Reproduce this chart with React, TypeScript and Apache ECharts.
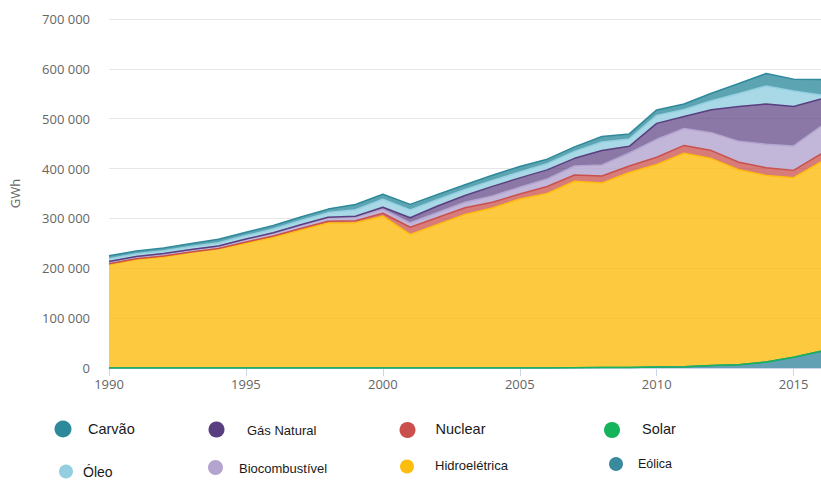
import React, { useEffect, useRef } from "react";
import * as echarts from "echarts";

const years = [1990, 1991, 1992, 1993, 1994, 1995, 1996, 1997, 1998, 1999, 2000, 2001, 2002, 2003, 2004, 2005, 2006, 2007, 2008, 2009, 2010, 2011, 2012, 2013, 2014, 2015, 2016];

const eolica = [0, 0, 0, 0, 0, 0, 0, 0, 0, 1, 2, 35, 61, 61, 61, 93, 237, 663, 1183, 1238, 2177, 2705, 5050, 6578, 12210, 21626, 33489];
const solar = [0, 0, 0, 0, 0, 0, 0, 0, 0, 0, 0, 0, 0, 0, 0, 0, 0, 0, 0, 0, 0, 0, 2, 5, 16, 59, 85];
const hidroeletrica = [207000, 217500, 222800, 232200, 239400, 250200, 262300, 276700, 290900, 291300, 304400, 267900, 288000, 308000, 320800, 339000, 350000, 374000, 370000, 391000, 406000, 428000, 415000, 391000, 374000, 360000, 380000];
const nuclear = [2200, 1400, 1800, 400, 100, 2500, 2400, 3200, 3300, 4000, 6000, 14300, 13800, 13400, 11600, 9900, 13800, 12400, 14000, 13000, 14500, 15700, 16000, 15000, 15400, 14700, 16000];
const biocombustivel = [4200, 4500, 4600, 4800, 5000, 5500, 6000, 6500, 7000, 7500, 8000, 9000, 10000, 11000, 12500, 13500, 15000, 18000, 22000, 26000, 36000, 34000, 36000, 42000, 47000, 49000, 55000];
const gasNatural = [300, 300, 300, 300, 300, 400, 500, 800, 1000, 1700, 4000, 10000, 13000, 13500, 19300, 18800, 18300, 15500, 29000, 13300, 32000, 24000, 46000, 70000, 81000, 79000, 55000];
const oleo = [5300, 5500, 5600, 6000, 6300, 7000, 7500, 8500, 9500, 13000, 16000, 16000, 13000, 12000, 12000, 12000, 12500, 14000, 17000, 15000, 16000, 14000, 18000, 26000, 36000, 31000, 8000];
const carvao = [6000, 5500, 5500, 6000, 7000, 6500, 7000, 7300, 7000, 10500, 10000, 11000, 10000, 9500, 10500, 11000, 9000, 9000, 11000, 10000, 11000, 11000, 15000, 20000, 25000, 24000, 31000];

const yTicks = [0, 100000, 200000, 300000, 400000, 500000, 600000, 700000];

// stacking order, bottom to top
const seriesDefs = [
  { name: "Eólica", values: eolica, color: "#3a8aa0", fill: 0.8 },
  { name: "Solar", values: solar, color: "#15b35a", fill: 0.8 },
  { name: "Hidroelétrica", values: hidroeletrica, color: "#fdbd0f", fill: 0.8 },
  { name: "Nuclear", values: nuclear, color: "#c9504c", fill: 0.75 },
  { name: "Biocombustível", values: biocombustivel, color: "#b3a5cf", fill: 0.8 },
  { name: "Gás Natural", values: gasNatural, color: "#5a3f80", fill: 0.7 },
  { name: "Óleo", values: oleo, color: "#93cfe0", fill: 0.8 },
  { name: "Carvão", values: carvao, color: "#2e8a9b", fill: 0.78 },
];

// legend layout: centre of dot, diameter, text start x, text centre y, font size
const legendLayout = [
  { name: "Carvão", cx: 63, cy: 429, d: 17, tx: 88, ty: 429, fs: 14.5 },
  { name: "Gás Natural", cx: 216.5, cy: 429.5, d: 16, tx: 247, ty: 430, fs: 13 },
  { name: "Nuclear", cx: 407.5, cy: 430, d: 16, tx: 435.5, ty: 429, fs: 14.5 },
  { name: "Solar", cx: 612, cy: 430, d: 16, tx: 642, ty: 429, fs: 14.5 },
  { name: "Óleo", cx: 66, cy: 471.5, d: 14, tx: 83, ty: 471.5, fs: 14 },
  { name: "Biocombustível", cx: 215.5, cy: 467.5, d: 15, tx: 239, ty: 468.5, fs: 13 },
  { name: "Hidroelétrica", cx: 407, cy: 466.5, d: 14, tx: 435, ty: 465.5, fs: 13 },
  { name: "Eólica", cx: 616, cy: 464, d: 14, tx: 638, ty: 464, fs: 12.5 },
];

function fmt(v: number): string {
  return String(v).replace(/\B(?=(\d{3})+(?!\d))/g, " ");
}

export default function App() {
  const ref = useRef<HTMLDivElement>(null);

  useEffect(() => {
    if (!ref.current) return;
    const chart = echarts.init(ref.current, undefined, { renderer: "svg" });

    const series = seriesDefs.map((s) => ({
      name: s.name,
      type: "line",
      stack: "total",
      data: s.values,
      showSymbol: false,
      symbol: "none",
      itemStyle: { color: s.color },
      lineStyle: { color: s.color, width: 1.5 },
      areaStyle: { color: s.color, opacity: s.fill },
    }));

    const colorOf: Record<string, string> = {};
    seriesDefs.forEach((s) => (colorOf[s.name] = s.color));

    const legendGraphics: any[] = [];
    legendLayout.forEach((l) => {
      legendGraphics.push({
        type: "circle",
        shape: { cx: l.cx, cy: l.cy, r: l.d / 2 },
        style: { fill: colorOf[l.name] },
        silent: true,
      });
      legendGraphics.push({
        type: "text",
        x: l.tx,
        y: l.ty,
        style: {
          text: l.name,
          fontFamily: "Liberation Sans",
          fontSize: l.fs,
          fill: "#1a1a1a",
          align: "left",
          verticalAlign: "middle",
        },
        silent: true,
      });
    });

    chart.setOption({
      animation: false,
      grid: { left: 107, right: -9, top: 19, bottom: 112 },
      graphic: legendGraphics,
      xAxis: {
        type: "category",
        data: years.map(String),
        boundaryGap: false,
        splitLine: { show: false },
        axisLine: { show: true, lineStyle: { color: "#ccd6eb", width: 1 } },
        axisTick: { show: true, length: 8, interval: 4, lineStyle: { color: "#ccd6eb" } },
        axisLabel: {
          color: "#666666",
          fontFamily: "Open Sans",
          fontSize: 13,
          margin: 9,
          interval: 4,
        },
      },
      yAxis: {
        type: "value",
        min: yTicks[0],
        max: yTicks[yTicks.length - 1],
        interval: yTicks[1] - yTicks[0],
        name: "GWh",
        nameLocation: "middle",
        nameRotate: 90,
        nameGap: 88,
        nameTextStyle: { color: "#666666", fontFamily: "Open Sans", fontSize: 13 },
        axisLine: { show: false },
        axisTick: { show: false },
        splitLine: { lineStyle: { color: "#e6e6e6", width: 1 } },
        axisLabel: {
          color: "#666666",
          fontFamily: "Open Sans",
          fontSize: 13,
          margin: 19,
          formatter: (v: number) => fmt(v),
        },
      },
      series,
    });

    return () => chart.dispose();
  }, []);

  return (
    <div
      ref={ref}
      style={{ position: "absolute", left: 0, top: 0, width: 821, height: 480, background: "#ffffff" }}
    />
  );
}
